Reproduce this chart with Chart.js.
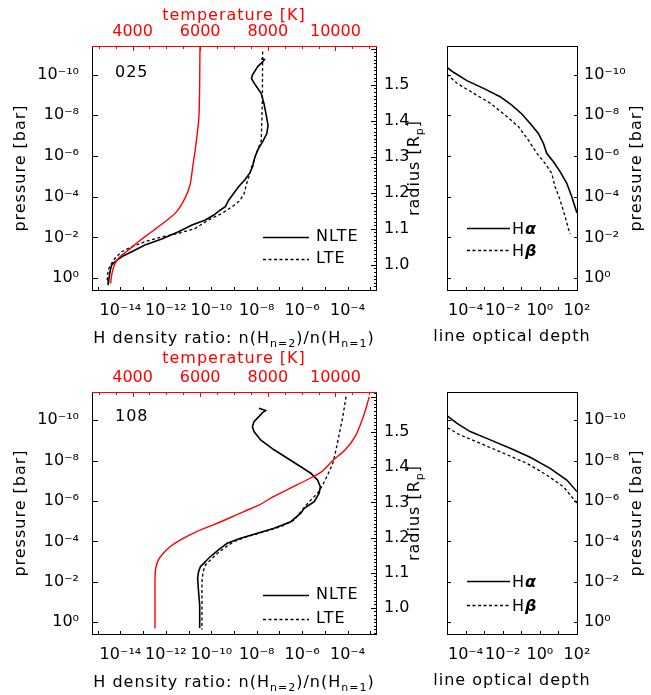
<!DOCTYPE html>
<html><head><meta charset="utf-8">
<script src="https://cdn.jsdelivr.net/npm/chart.js@4/dist/chart.umd.min.js"></script>
<style>
html,body{margin:0;padding:0;background:#fff;}
#wrap{position:relative;width:651px;height:695px;background:#fff;overflow:hidden;}
#wrap canvas{position:absolute;left:0;top:0;}
</style></head><body>
<div id="wrap">
<canvas id="cA" width="651" height="695"></canvas>
<canvas id="cB" width="651" height="695"></canvas>
<canvas id="cC" width="651" height="695"></canvas>
<canvas id="cD" width="651" height="695"></canvas>
</div>
<script>
// ---------------- tick labels / categories ----------------
const pressureTickExps = [-10, -8, -6, -4, -2, 0];
const ratioTickExps = [-14, -12, -10, -8, -6, -4];
const tauTickExps = [-4, -2, 0, 2];
const temperatureTicks = [4000, 6000, 8000, 10000];
const radiusTicks = [1.0, 1.1, 1.2, 1.3, 1.4, 1.5];
const modelLabels = ['025', '108'];

// ---------------- model 025 (log10 pressure [bar] vs quantity) ----------------
const logP_T025 = [-11.43, -8.0, -6.6, -5.47, -4.58, -3.93, -3.27, -2.77, -2.28, -1.79, -1.38, -1.05, -0.72, -0.31, 0.10, 0.26];
const temp025 = [5995, 5965, 5876, 5779, 5699, 5551, 5305, 4959, 4566, 4170, 3874, 3628, 3480, 3400, 3362, 3353];

const logP_NLTE025 = [-10.78, -10.74, -10.62, -10.4, -9.97, -9.80, -9.47, -9.06, -8.57, -8.0, -7.50, -7.09, -6.68, -6.35, -5.95, -5.45, -5.16, -4.83, -4.50, -4.17, -3.84, -3.51, -3.35, -3.10, -2.86, -2.61, -2.28, -1.92, -1.63, -1.30, -1.05, -0.80, -0.64, -0.31, 0.10, 0.34];
const logRatio_NLTE025 = [-7.80, -7.66, -7.74, -7.95, -8.19, -8.23, -8.05, -7.80, -7.68, -7.58, -7.50, -7.56, -7.75, -7.93, -8.08, -8.19, -8.31, -8.52, -8.79, -9.01, -9.23, -9.38, -9.60, -9.89, -10.26, -10.85, -11.44, -12.18, -12.92, -13.50, -13.95, -14.24, -14.39, -14.46, -14.51, -14.54];

const logP_LTE025 = [-11.13, -8.77, -6.76, -6.27, -5.78, -5.45, -5.24, -4.74, -4.09, -3.76, -3.51, -3.19, -2.86, -2.45, -2.20, -2.03, -1.79, -1.54, -1.30, -0.97, -0.72, -0.48, -0.15, 0.18];
const logRatio_LTE025 = [-7.74, -7.75, -7.80, -7.97, -8.12, -8.23, -8.27, -8.42, -8.57, -8.79, -9.08, -9.52, -10.12, -10.70, -11.44, -12.18, -12.92, -13.50, -13.95, -14.24, -14.39, -14.51, -14.57, -14.58];

const logP_Ha025 = [-10.35, -10.11, -9.70, -9.32, -8.91, -8.50, -8.06, -7.60, -7.11, -6.62, -6.13, -5.72, -5.23, -4.66, -4.00, -3.51, -3.20];
const logTau_Ha025 = [-5.0, -4.65, -3.93, -3.03, -2.14, -1.51, -0.97, -0.52, -0.08, 0.19, 0.37, 0.73, 1.09, 1.45, 1.72, 1.89, 2.0];
const logP_Hb025 = [-10.01, -9.57, -9.08, -8.59, -8.01, -7.44, -6.78, -6.13, -5.64, -5.15, -4.49, -3.84, -3.02, -2.45, -2.17];
const logTau_Hb025 = [-5.0, -4.46, -3.57, -2.67, -1.87, -1.15, -0.62, -0.16, 0.28, 0.64, 0.82, 1.09, 1.36, 1.53, 1.63];

// ---------------- model 108 ----------------
const logP_T108 = [-11.17, -10.18, -9.19, -8.53, -8.03, -7.46, -7.13, -6.71, -6.22, -5.81, -5.48, -5.15, -4.82, -4.49, -4.07, -3.74, -3.42, -3.08, -2.67, -2.18, -0.86, 0.30];
const temp108 = [11003, 10825, 10580, 10284, 9938, 9595, 9248, 8754, 8163, 7750, 7290, 6850, 6388, 5897, 5403, 5107, 4909, 4761, 4684, 4664, 4664, 4664];

const logP_NLTE108 = [-10.59, -10.48, -10.38, -9.93, -9.68, -9.44, -9.03, -8.54, -8.12, -7.70, -7.38, -7.04, -6.71, -6.39, -5.97, -5.64, -5.40, -4.98, -4.65, -4.41, -4.16, -3.91, -3.66, -3.33, -3.17, -3.00, -2.75, -2.50, -2.18, -1.51, -0.86, -0.20, 0.28];
const logRatio_NLTE108 = [-7.90, -7.61, -7.74, -8.12, -8.19, -8.12, -7.83, -7.24, -6.65, -6.06, -5.62, -5.32, -5.20, -5.25, -5.47, -5.91, -6.06, -6.50, -7.24, -7.97, -8.71, -9.30, -9.60, -9.96, -10.12, -10.26, -10.48, -10.56, -10.60, -10.56, -10.51, -10.51, -10.51];

const logP_LTE108 = [-11.17, -10.18, -9.36, -8.53, -7.87, -7.29, -6.79, -6.39, -5.97, -5.48, -5.06, -4.73, -4.48, -4.24, -3.99, -3.66, -3.33, -3.08, -2.84, -2.50, -2.01, -0.86, 0.37];
const logRatio_LTE108 = [-4.07, -4.21, -4.36, -4.51, -4.65, -4.88, -5.10, -5.32, -5.69, -6.06, -6.35, -6.94, -7.68, -8.42, -9.01, -9.45, -9.82, -10.04, -10.26, -10.36, -10.41, -10.41, -10.41];

const logP_Ha108 = [-10.21, -9.85, -9.44, -9.03, -8.61, -8.17, -7.62, -7.04, -6.47];
const logTau_Ha108 = [-4.97, -4.46, -3.75, -2.67, -1.60, -0.52, 0.55, 1.45, 2.0];
const logP_Hb108 = [-9.63, -9.27, -8.86, -8.37, -7.87, -7.29, -6.71, -5.89];
const logTau_Hb108 = [-4.97, -4.29, -3.21, -1.96, -0.70, 0.37, 1.27, 2.0];

// ---------------- helpers ----------------
const FAM = 'DejaVu Sans';
Chart.defaults.font.family = FAM;
Chart.defaults.font.size = 16;
const SUP = {'-': '\u207B', '0': '\u2070', '1': '\u00B9', '2': '\u00B2', '3': '\u00B3', '4': '\u2074', '5': '\u2075', '6': '\u2076', '7': '\u2077', '8': '\u2078', '9': '\u2079'};
const pow10Label = v => { const e = Math.round(Math.log10(v)); return '10' + String(e).split('').map(c => SUP[c]).join(''); };
const logPts = (lp, lv) => lp.map((p, i) => ({x: Math.pow(10, lv[i]), y: Math.pow(10, p)}));
const linPts = (lp, v) => lp.map((p, i) => ({x: v[i], y: Math.pow(10, p)}));
const decades = (a, b) => { const r = []; for (let e = a; e <= b; e++) r.push(Math.pow(10, e)); return r; };

function fontOf(p) {
  if (p.sub) return '11px "' + FAM + '"';
  if (p.greek) return 'italic bold 16px "' + FAM + '"';
  return '16px "' + FAM + '"';
}
function drawRich(ctx, parts, x, y, o) {
  ctx.save();
  ctx.letterSpacing = '1px';
  ctx.fillStyle = o.color || '#000';
  ctx.textBaseline = 'alphabetic';
  ctx.textAlign = 'left';
  let w = 0;
  for (const p of parts) { ctx.font = fontOf(p); w += ctx.measureText(p.t).width; }
  ctx.translate(x, y);
  if (o.rot) ctx.rotate(-Math.PI / 2);
  let cx = o.align === 'center' ? -w / 2 : 0;
  for (const p of parts) {
    ctx.font = fontOf(p);
    ctx.fillText(p.t, cx, p.sub ? 4 : 0);
    cx += ctx.measureText(p.t).width;
  }
  ctx.restore();
}

const decoPlugin = {
  id: 'deco',
  afterDraw(chart, args, opts) {
    const ctx = chart.ctx, a = chart.chartArea;
    const L = Math.round(a.left), R = Math.round(a.right), T = Math.round(a.top), B = Math.round(a.bottom);
    ctx.save();
    ctx.lineWidth = 1;
    // tick marks (inward)
    for (const t of (opts.ticks || [])) {
      const s = chart.scales[t.scale];
      ctx.strokeStyle = t.color || '#000';
      ctx.beginPath();
      t.values.forEach((v, i) => {
        const len = typeof t.len === 'function' ? t.len(v, i) : t.len;
        const p = Math.round(s.getPixelForValue(v)) + 0.5;
        if (t.side === 'left') { ctx.moveTo(L, p); ctx.lineTo(L + len, p); }
        else if (t.side === 'right') { ctx.moveTo(R + 1, p); ctx.lineTo(R + 1 - len, p); }
        else if (t.side === 'bottom') { ctx.moveTo(p, B + 1); ctx.lineTo(p, B + 1 - len); }
        else if (t.side === 'top') { ctx.moveTo(p, T); ctx.lineTo(p, T + len); }
      });
      ctx.stroke();
    }
    // frame
    const seg = (x1, y1, x2, y2, c) => { ctx.strokeStyle = c; ctx.beginPath(); ctx.moveTo(x1, y1); ctx.lineTo(x2, y2); ctx.stroke(); };
    seg(L + 0.5, T, L + 0.5, B + 1, '#000');
    seg(R + 0.5, T, R + 0.5, B + 1, '#000');
    seg(L, B + 0.5, R + 1, B + 0.5, '#000');
    seg(L, T + 0.5, R + 1, T + 0.5, opts.topColor || '#000');
    // legend
    if (opts.legend) {
      const lg = opts.legend;
      for (const row of lg.rows) {
        ctx.save();
        ctx.strokeStyle = '#000';
        ctx.lineWidth = row.dash ? 1.3 : 1.6;
        ctx.setLineDash(row.dash || []);
        ctx.beginPath(); ctx.moveTo(lg.x1, row.y); ctx.lineTo(lg.x2, row.y); ctx.stroke();
        ctx.restore();
        drawRich(ctx, row.parts, lg.tx, row.y + row.dy, {align: 'left'});
      }
    }
    // texts / axis titles
    for (const tx of (opts.texts || [])) drawRich(ctx, tx.parts, tx.x, tx.y, tx);
    ctx.restore();
  }
};

const FONT = {family: FAM, size: 16};
const noGrid = {display: false, drawTicks: false};
const noBorder = {display: false};
const P_MIN = Math.pow(10, -11.4), P_MAX = Math.pow(10, 0.58);

function pressureAxis(position, width, padding) {
  return {
    type: 'logarithmic', position, reverse: true, min: P_MIN, max: P_MAX, bounds: 'data',
    grid: noGrid, border: noBorder,
    afterBuildTicks: s => { s.ticks = pressureTickExps.map(e => ({value: Math.pow(10, e)})); },
    afterFit: s => { s.width = width; },
    ticks: {autoSkip: false, padding, color: '#000', font: FONT, callback: v => pow10Label(v)}
  };
}

const titleH = [{t: 'H density ratio: n(H'}, {t: 'n=2', sub: true}, {t: ')/n(H'}, {t: 'n=1', sub: true}, {t: ')'}];
const titleP = [{t: 'pressure [bar]'}];
const titleR = [{t: 'radius [R'}, {t: 'p', sub: true}, {t: ']'}];
const titleT = [{t: 'temperature [K]'}];
const titleTau = [{t: 'line optical depth'}];

function leftChart(id, m) {
  return new Chart(document.getElementById(id), {
    type: 'line',
    data: {datasets: [
      {label: 'temperature', data: linPts(m.lpT, m.temp), xAxisID: 'xT', yAxisID: 'y', borderColor: '#ff0000', borderWidth: 1.4, tension: 0.3},
      {label: 'NLTE', data: logPts(m.lpN, m.lrN), xAxisID: 'x', yAxisID: 'y', borderColor: '#000', borderWidth: 1.6},
      {label: 'LTE', data: logPts(m.lpL, m.lrL), xAxisID: 'x', yAxisID: 'y', borderColor: '#000', borderWidth: 1.3, borderDash: [3, 2.5]}
    ]},
    options: {
      responsive: false, animation: false, events: [],
      layout: {padding: m.pad},
      elements: {point: {radius: 0}, line: {tension: 0, fill: false}},
      plugins: {
        legend: {display: false}, tooltip: {enabled: false},
        deco: {
          topColor: '#ff0000',
          ticks: [
            {scale: 'y', side: 'left', values: pressureTickExps.map(e => Math.pow(10, e)), len: 6},
            {scale: 'x', side: 'bottom', values: decades(-15, -3), len: 4},
            {scale: 'xT', side: 'top', color: '#ff0000', values: Array.from({length: 17}, (_, i) => 3000 + 500 * i), len: v => (v % 2000 === 0 ? 5 : 3)},
            {scale: 'yR', side: 'right', values: m.radiusMinor, len: v => (Math.abs(v * 10 - Math.round(v * 10)) < 1e-6 ? 6 : 3)}
          ],
          legend: {x1: 263, x2: 309, tx: 316, rows: [
            {y: m.legY[0], dy: 3, parts: [{t: 'NLTE'}]},
            {y: m.legY[1], dy: 3, dash: [3, 2.5], parts: [{t: 'LTE'}]}
          ]},
          texts: [
            {parts: titleT, x: 234, y: m.tTitleY, align: 'center', color: '#ff0000'},
            {parts: titleH, x: 234, y: m.bTitleY, align: 'center'},
            {parts: titleP, x: 25, y: m.cy, align: 'center', rot: true},
            {parts: titleR, x: 419, y: m.cy, align: 'center', rot: true},
            {parts: [{t: m.label}], x: 115, y: m.labelY, align: 'left'}
          ]
        }
      },
      scales: {
        y: pressureAxis('left', 92, 13),
        x: {
          type: 'logarithmic', position: 'bottom', min: Math.pow(10, -15.25), max: Math.pow(10, -2.75), bounds: 'data',
          grid: noGrid, border: noBorder,
          afterBuildTicks: s => { s.ticks = ratioTickExps.map(e => ({value: Math.pow(10, e)})); },
          afterFit: s => { s.height = 60; },
          ticks: {autoSkip: false, maxRotation: 0, minRotation: 0, padding: 11, color: '#000', font: FONT, callback: v => pow10Label(v)}
        },
        xT: {
          type: 'linear', position: 'top', min: 2800, max: 11200, bounds: 'data',
          grid: noGrid, border: noBorder,
          afterBuildTicks: s => { s.ticks = temperatureTicks.map(v => ({value: v})); },
          afterFit: s => { s.height = 46; },
          ticks: {autoSkip: false, maxRotation: 0, minRotation: 0, padding: 5, color: '#ff0000', font: FONT, callback: v => String(v)}
        },
        yR: {
          type: 'linear', position: 'right', min: m.rMin, max: m.rMax, bounds: 'data',
          grid: noGrid, border: noBorder,
          afterBuildTicks: s => { s.ticks = radiusTicks.map(v => ({value: v})); },
          afterFit: s => { s.width = 60; },
          ticks: {autoSkip: false, padding: 8, color: '#000', font: FONT, callback: v => v.toFixed(1)}
        }
      }
    },
    plugins: [decoPlugin]
  });
}

function rightChart(id, m) {
  return new Chart(document.getElementById(id), {
    type: 'line',
    data: {datasets: [
      {label: 'H\u03B1', data: logPts(m.lpA, m.ltA), xAxisID: 'x', yAxisID: 'y', borderColor: '#000', borderWidth: 1.6},
      {label: 'H\u03B2', data: logPts(m.lpB, m.ltB), xAxisID: 'x', yAxisID: 'y', borderColor: '#000', borderWidth: 1.3, borderDash: [3, 2.5]}
    ]},
    options: {
      responsive: false, animation: false, events: [],
      layout: {padding: m.pad},
      elements: {point: {radius: 0}, line: {tension: 0, fill: false}},
      plugins: {
        legend: {display: false}, tooltip: {enabled: false},
        deco: {
          ticks: [
            {scale: 'y', side: 'left', values: pressureTickExps.map(e => Math.pow(10, e)), len: 4},
            {scale: 'y', side: 'right', values: pressureTickExps.map(e => Math.pow(10, e)), len: 4},
            {scale: 'x', side: 'bottom', values: decades(-5, 2), len: 4}
          ],
          legend: {x1: 467, x2: 510, tx: 512, rows: [
            {y: m.legY[0], dy: 5, parts: [{t: 'H'}, {t: '\u03B1', greek: true}]},
            {y: m.legY[1], dy: 5, dash: [3, 2.5], parts: [{t: 'H'}, {t: '\u03B2', greek: true}]}
          ]},
          texts: [
            {parts: titleTau, x: 512, y: m.bTitleY, align: 'center'},
            {parts: titleP, x: 641, y: m.cy, align: 'center', rot: true}
          ]
        }
      },
      scales: {
        y: pressureAxis('right', 74, 7),
        x: {
          type: 'logarithmic', position: 'bottom', min: 1e-5, max: 1e2, bounds: 'data',
          grid: noGrid, border: noBorder,
          afterBuildTicks: s => { s.ticks = tauTickExps.map(e => ({value: Math.pow(10, e)})); },
          afterFit: s => { s.height = 60; },
          ticks: {autoSkip: false, maxRotation: 0, minRotation: 0, padding: 11, color: '#000', font: FONT, callback: v => pow10Label(v)}
        }
      }
    },
    plugins: [decoPlugin]
  });
}

const minorRadius = (a, b) => { const r = []; for (let i = a; i <= b; i++) r.push(i / 100); return r; };

leftChart('cA', {
  pad: {left: 0, top: 0, right: 215, bottom: 345},
  lpT: logP_T025, temp: temp025, lpN: logP_NLTE025, lrN: logRatio_NLTE025, lpL: logP_LTE025, lrL: logRatio_LTE025,
  rMin: 0.93, rMax: 1.608, radiusMinor: minorRadius(93, 160),
  legY: [237.5, 259.5], tTitleY: 20, bTitleY: 342.5, cy: 168, label: modelLabels[0], labelY: 76.5
});
rightChart('cB', {
  pad: {left: 447, top: 46, right: 0, bottom: 345},
  lpA: logP_Ha025, ltA: logTau_Ha025, lpB: logP_Hb025, ltB: logTau_Hb025,
  legY: [228.5, 250.5], bTitleY: 341, cy: 168
});
leftChart('cC', {
  pad: {left: 0, top: 346, right: 215, bottom: 1},
  lpT: logP_T108, temp: temp108, lpN: logP_NLTE108, lrN: logRatio_NLTE108, lpL: logP_LTE108, lrL: logRatio_LTE108,
  rMin: 0.926, rMax: 1.614, radiusMinor: minorRadius(93, 161),
  legY: [595.5, 619.5], tTitleY: 363, bTitleY: 686.5, cy: 513, label: modelLabels[1], labelY: 421
});
rightChart('cD', {
  pad: {left: 447, top: 392, right: 0, bottom: 1},
  lpA: logP_Ha108, ltA: logTau_Ha108, lpB: logP_Hb108, ltB: logTau_Hb108,
  legY: [581.5, 605.5], bTitleY: 685, cy: 513
});
</script>
</body></html>
